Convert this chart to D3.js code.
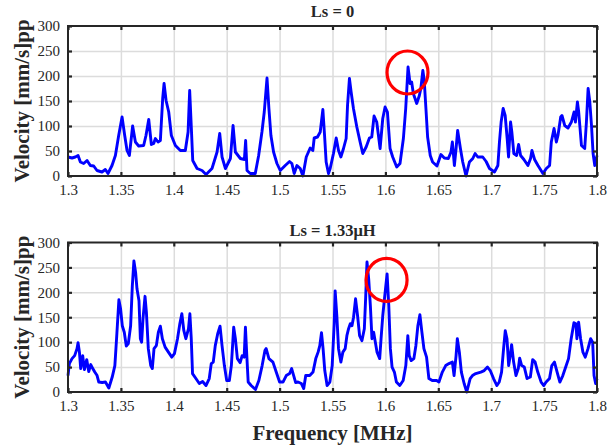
<!DOCTYPE html>
<html>
<head>
<meta charset="UTF-8" />
<title>Velocity spectra</title>
<script src="https://cdn.jsdelivr.net/npm/d3@7"></script>
<style>
	body { margin: 0; background: #fff; }
	text { font-family: "Liberation Serif", "Times New Roman", serif; fill: #262626; }
</style>
</head>
<body>
<svg id="vis" width="614" height="445"></svg>
<script>
// values
const topFreq = [1.3000, 1.3038, 1.3069, 1.3095, 1.3117, 1.3148, 1.3180, 1.3211, 1.3243, 1.3274,
	1.3321, 1.3353, 1.3378, 1.3416, 1.3448, 1.3479, 1.3511, 1.3536, 1.3558, 1.3580,
	1.3611, 1.3637, 1.3668, 1.3715, 1.3737, 1.3763, 1.3788, 1.3810, 1.3826, 1.3851,
	1.3873, 1.3895, 1.3908, 1.3927, 1.3952, 1.3977, 1.4015, 1.4062, 1.4109, 1.4135,
	1.4150, 1.4166, 1.4179, 1.4220, 1.4267, 1.4305, 1.4361, 1.4409, 1.4434, 1.4456,
	1.4488, 1.4535, 1.4560, 1.4582, 1.4629, 1.4667, 1.4679, 1.4692, 1.4723, 1.4770,
	1.4802, 1.4833, 1.4855, 1.4881, 1.4899, 1.4918, 1.4943, 1.4975, 1.5006, 1.5053,
	1.5094, 1.5116, 1.5138, 1.5164, 1.5195, 1.5220, 1.5252, 1.5289, 1.5314, 1.5327,
	1.5358, 1.5384, 1.5409, 1.5425, 1.5440, 1.5462, 1.5478, 1.5509, 1.5535, 1.5557,
	1.5579, 1.5604, 1.5629, 1.5642, 1.5660, 1.5676, 1.5698, 1.5730, 1.5761, 1.5786,
	1.5818, 1.5849, 1.5871, 1.5893, 1.5918, 1.5950, 1.5975, 1.5997, 1.6019, 1.6044,
	1.6069, 1.6107, 1.6138, 1.6170, 1.6192, 1.6214, 1.6233, 1.6248, 1.6264, 1.6296,
	1.6321, 1.6335, 1.6354, 1.6367, 1.6383, 1.6399, 1.6424, 1.6446, 1.6487, 1.6525,
	1.6557, 1.6595, 1.6620, 1.6633, 1.6652, 1.6668, 1.6683, 1.6709, 1.6731, 1.6762,
	1.6794, 1.6826, 1.6848, 1.6873, 1.6920, 1.6952, 1.6984, 1.7031, 1.7063, 1.7078,
	1.7094, 1.7113, 1.7132, 1.7151, 1.7164, 1.7183, 1.7195, 1.7214, 1.7240, 1.7259,
	1.7278, 1.7309, 1.7347, 1.7372, 1.7385, 1.7410, 1.7442, 1.7489, 1.7521, 1.7552,
	1.7568, 1.7594, 1.7616, 1.7631, 1.7657, 1.7669, 1.7695, 1.7726, 1.7758, 1.7783,
	1.7796, 1.7815, 1.7827, 1.7853, 1.7884, 1.7900, 1.7916, 1.7932, 1.7948, 1.7963,
	1.7979, 1.8000];
const topVel = [38, 36, 38, 41, 28, 25, 31, 21, 20, 11,
	8, 13, 5, 21, 41, 81, 118, 81, 51, 41,
	100, 68, 60, 61, 81, 113, 63, 65, 75, 68,
	71, 155, 185, 151, 128, 81, 61, 51, 51, 88,
	171, 95, 31, 15, 11, 3, 15, 48, 85, 38,
	15, 35, 101, 48, 35, 33, 71, 11, 5, 5,
	41, 88, 128, 196, 135, 81, 48, 25, 11, 21,
	29, 25, 5, 21, 15, 0, 38, 56, 51, 76,
	78, 88, 133, 81, 28, 5, 15, 45, 76, 51,
	38, 55, 75, 141, 195, 168, 135, 98, 68, 45,
	58, 76, 78, 120, 108, 55, 115, 138, 128, 55,
	38, 18, 25, 75, 135, 218, 185, 188, 165, 145,
	161, 175, 211, 191, 135, 78, 41, 28, 20, 43,
	36, 35, 48, 68, 21, 55, 91, 55, 28, 0,
	28, 35, 45, 38, 38, 29, 15, 8, 21, 68,
	108, 135, 121, 75, 38, 108, 88, 45, 41, 63,
	41, 33, 21, 35, 51, 33, 21, 5, 15, 21,
	68, 95, 68, 81, 118, 121, 101, 96, 108, 128,
	108, 148, 128, 61, 55, 108, 175, 148, 101, 45,
	21, 41];

const botFreq = [1.3000, 1.3013, 1.3038, 1.3063, 1.3085, 1.3095, 1.3108, 1.3120, 1.3139, 1.3155,
	1.3177, 1.3196, 1.3215, 1.3234, 1.3253, 1.3275, 1.3291, 1.3323, 1.3354, 1.3386,
	1.3418, 1.3443, 1.3459, 1.3472, 1.3481, 1.3497, 1.3513, 1.3532, 1.3551, 1.3570,
	1.3592, 1.3608, 1.3623, 1.3639, 1.3652, 1.3671, 1.3684, 1.3696, 1.3709, 1.3728,
	1.3741, 1.3759, 1.3782, 1.3797, 1.3813, 1.3835, 1.3854, 1.3873, 1.3892, 1.3918,
	1.3949, 1.3981, 1.4006, 1.4035, 1.4057, 1.4076, 1.4095, 1.4114, 1.4139, 1.4152,
	1.4165, 1.4177, 1.4209, 1.4241, 1.4272, 1.4304, 1.4335, 1.4354, 1.4373, 1.4392,
	1.4415, 1.4437, 1.4456, 1.4478, 1.4500, 1.4525, 1.4544, 1.4566, 1.4582, 1.4601,
	1.4627, 1.4646, 1.4665, 1.4677, 1.4690, 1.4703, 1.4731, 1.4772, 1.4804, 1.4835,
	1.4861, 1.4873, 1.4899, 1.4937, 1.4968, 1.5000, 1.5032, 1.5063, 1.5095, 1.5114,
	1.5133, 1.5152, 1.5174, 1.5206, 1.5228, 1.5247, 1.5285, 1.5316, 1.5342, 1.5364,
	1.5380, 1.5396, 1.5411, 1.5427, 1.5449, 1.5475, 1.5497, 1.5516, 1.5525, 1.5541,
	1.5557, 1.5579, 1.5598, 1.5620, 1.5636, 1.5652, 1.5668, 1.5684, 1.5699, 1.5718,
	1.5737, 1.5756, 1.5778, 1.5801, 1.5813, 1.5826, 1.5842, 1.5858, 1.5873, 1.5889,
	1.5905, 1.5921, 1.5946, 1.5959, 1.5975, 1.5994, 1.6016, 1.6032, 1.6047, 1.6063,
	1.6085, 1.6104, 1.6136, 1.6168, 1.6193, 1.6212, 1.6225, 1.6244, 1.6269, 1.6288,
	1.6307, 1.6326, 1.6345, 1.6364, 1.6389, 1.6411, 1.6443, 1.6484, 1.6506, 1.6538,
	1.6570, 1.6601, 1.6633, 1.6649, 1.6668, 1.6680, 1.6699, 1.6718, 1.6744, 1.6769,
	1.6801, 1.6823, 1.6854, 1.6902, 1.6934, 1.6965, 1.6991, 1.7022, 1.7054, 1.7076,
	1.7098, 1.7117, 1.7133, 1.7149, 1.7165, 1.7180, 1.7193, 1.7212, 1.7234, 1.7256,
	1.7269, 1.7288, 1.7313, 1.7339, 1.7370, 1.7392, 1.7415, 1.7440, 1.7472, 1.7497,
	1.7519, 1.7551, 1.7573, 1.7598, 1.7623, 1.7649, 1.7677, 1.7709, 1.7731, 1.7756,
	1.7782, 1.7801, 1.7810, 1.7826, 1.7845, 1.7867, 1.7889, 1.7915, 1.7940, 1.7959,
	1.7972, 1.7987, 1.8000];
const botVel = [33, 57, 67, 73, 87, 99, 80, 47, 73, 45,
	65, 41, 55, 47, 40, 33, 20, 19, 20, 8,
	30, 53, 107, 153, 185, 167, 133, 120, 92, 97,
	133, 213, 263, 240, 207, 183, 107, 100, 147, 192,
	160, 87, 53, 47, 87, 93, 120, 132, 107, 90,
	80, 70, 77, 107, 137, 157, 123, 107, 127, 157,
	107, 37, 27, 17, 21, 13, 27, 57, 60, 93,
	117, 132, 93, 53, 23, 23, 53, 130, 107, 67,
	59, 73, 70, 130, 73, 20, 13, 5, 23, 53,
	83, 87, 67, 60, 40, 20, 20, 33, 37, 47,
	33, 19, 20, 17, 7, 33, 33, 40, 67, 80,
	93, 119, 87, 43, 13, 20, 53, 137, 203, 153,
	87, 60, 80, 87, 113, 127, 137, 133, 150, 187,
	153, 113, 103, 127, 187, 261, 227, 173, 107, 120,
	100, 80, 67, 107, 153, 193, 237, 173, 87, 50,
	40, 20, 13, 23, 53, 113, 73, 63, 67, 93,
	133, 155, 120, 87, 70, 27, 23, 23, 20, 40,
	53, 57, 60, 33, 73, 107, 80, 40, 17, 0,
	27, 33, 37, 40, 43, 50, 43, 27, 13, 20,
	40, 87, 123, 107, 53, 73, 95, 60, 33, 47,
	68, 53, 50, 27, 30, 65, 60, 40, 20, 13,
	20, 27, 53, 60, 40, 20, 33, 53, 67, 107,
	139, 137, 107, 140, 107, 80, 70, 87, 107, 100,
	33, 17, 27];

const xTicks = [1.3, 1.35, 1.4, 1.45, 1.5, 1.55, 1.6, 1.65, 1.7, 1.75, 1.8];
const yTicks = [0, 50, 100, 150, 200, 250, 300];
const titles = ["Ls = 0", "Ls = 1.33\u03bcH"];
const yLabel = "Velocity [mm/s]pp";
const xLabel = "Frequency [MHz]";
// red circles: centre [frequency, velocity]
const markTop = [1.6209, 207];
const markBot = [1.6011, 225];

const svg = d3.select("#vis");
const x0 = 68, x1 = 597;

function drawPanel(top, bottom, freq, vel, title, titleY, mark) {
	const h = bottom - top;
	let x = d3.scaleLinear().domain([1.3, 1.8]).range([0, x1 - x0]);
	let y = d3.scaleLinear().domain([0, 300]).range([h, 0]);

	let g = svg.append("g").attr("transform", "translate(" + x0 + "," + top + ")");

	// grille
	let gx = g.append("g").attr("transform", "translate(0," + h + ")")
		.call(d3.axisBottom(x).tickValues(xTicks.slice(1, -1)).tickSize(-h).tickFormat(""));
	let gy = g.append("g")
		.call(d3.axisLeft(y).tickValues(yTicks.slice(1, -1)).tickSize(-(x1 - x0)).tickFormat(""));
	[gx, gy].forEach(a => {
		a.select(".domain").remove();
		a.selectAll("line").attr("stroke", "#dcdcdc").attr("stroke-width", 1.5);
	});

	// courbe
	let pts = freq.map((f, i) => [f, vel[i]]);
	g.append("path")
		.attr("d", d3.line().x(d => x(d[0])).y(d => y(d[1]))(pts))
		.attr("fill", "none")
		.attr("stroke", "#0000ff")
		.attr("stroke-width", 2.9)
		.attr("stroke-linejoin", "round");

	// axes, ticks inward on all four sides
	let axes = [
		[d3.axisBottom(x).tickValues(xTicks).tickFormat(d3.format("")), "translate(0," + h + ")", true],
		[d3.axisTop(x).tickValues(xTicks).tickFormat(""), null, false],
		[d3.axisLeft(y).tickValues(yTicks), null, true],
		[d3.axisRight(y).tickValues(yTicks).tickFormat(""), "translate(" + (x1 - x0) + ",0)", false]
	];
	axes.forEach(([ax, tr, lab]) => {
		let a = g.append("g");
		if (tr) a.attr("transform", tr);
		a.call(ax.tickSizeInner(-4).tickSizeOuter(0).tickPadding(lab ? 8 : 0));
		a.select(".domain").remove();
		a.selectAll("line").attr("stroke", "#262626").attr("stroke-width", 2.2);
		a.selectAll("text").attr("font-size", 15).attr("font-family", "Liberation Serif").attr("fill", "#333");
	});
	g.append("rect").attr("width", x1 - x0).attr("height", h)
		.attr("fill", "none").attr("stroke", "#262626").attr("stroke-width", 2);

	g.append("ellipse")
		.attr("cx", x(mark[0])).attr("cy", y(mark[1]))
		.attr("rx", 20.5).attr("ry", 21.5)
		.attr("fill", "none").attr("stroke", "#ff0000").attr("stroke-width", 3.2);

	svg.append("text").attr("x", (x0 + x1) / 2).attr("y", titleY)
		.attr("text-anchor", "middle").attr("font-weight", "bold").attr("font-size", 16.5)
		.text(title);

	svg.append("text")
		.attr("transform", "translate(29," + (top + h / 2) + ") rotate(-90)")
		.attr("text-anchor", "middle").attr("font-weight", "bold").attr("font-size", 21)
		.text(yLabel);
}

drawPanel(26, 176, topFreq, topVel, titles[0], 17, markTop);
drawPanel(242.5, 392, botFreq, botVel, titles[1], 236, markBot);

svg.append("text").attr("x", (x0 + x1) / 2).attr("y", 440)
	.attr("text-anchor", "middle").attr("font-weight", "bold").attr("font-size", 21)
	.text(xLabel);
</script>
</body>
</html>
